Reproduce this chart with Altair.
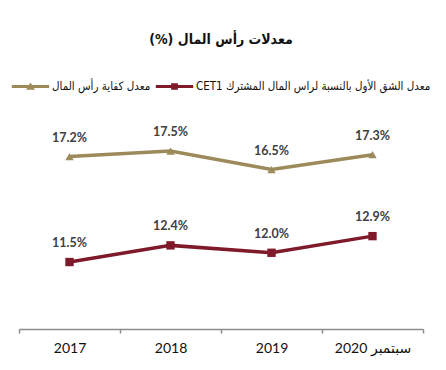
import altair as alt
import pandas as pd

years = ["2017", "2018", "2019", "2020 سبتمبر"]
car = [17.2, 17.5, 16.5, 17.3]
cet1 = [11.5, 12.4, 12.0, 12.9]
s_car = "معدل كفاية رأس المال"
s_cet = "CET1 معدل الشق الأول بالنسبة لراس المال المشترك"
series_names = [s_car, s_cet]
colors = ["#9C8A5B", "#7E1A2A"]
marks = ["triangle-up", "square"]
legend_shapes = ["M-1,-0.075L1,-0.075L1,0.075L-1,0.075ZM-0.24,0.18L0,-0.22L0.24,0.18Z",
                 "M-1,-0.075L1,-0.075L1,0.075L-1,0.075ZM-0.18,-0.18L0.18,-0.18L0.18,0.18L-0.18,0.18Z"]

rows = []
for i, y in enumerate(years):
    rows.append({"year": y, "series": s_car, "value": car[i]})
    rows.append({"year": y, "series": s_cet, "value": cet1[i]})
df = pd.DataFrame(rows)
df["label"] = df["value"].map(lambda v: f"{v:.1f}%")

font = "Lato, DejaVu Sans"
afont = "DejaVu Sans Condensed"
x = alt.X("year:N", sort=years, title=None,
          scale=alt.Scale(paddingInner=0, paddingOuter=0),
          axis=alt.Axis(labelAngle=0, labelFont=font, labelFontSize=14, labelColor="#111",
                        domainColor="#8c8c8c", domainWidth=1.5, tickColor="#8c8c8c",
                        tickWidth=1.5, tickSize=4, tickBand="extent", labelPadding=8))
y = alt.Y("value:Q", scale=alt.Scale(domain=[7.88, 19.88]), axis=None)

base = alt.Chart(df)
layers = []
for name, col, mk in zip(series_names, colors, marks):
    sub = base.transform_filter(alt.datum.series == name)
    layers.append(sub.mark_line(strokeWidth=3.5, color=col).encode(x=x, y=y))
    layers.append(sub.mark_point(filled=True, size=70, opacity=1, color=col, shape=mk).encode(x=x, y=y))

leg = dict(title=None, orient="none", legendX=-8, legendY=-40, direction="horizontal",
           labelFont=afont, labelFontSize=11.5, labelColor="#111", symbolSize=1400,
           columnPadding=4, labelOffset=2, labelLimit=420)
legend_layer = base.transform_filter("false").mark_point(filled=True, opacity=1).encode(
    color=alt.Color("series:N", scale=alt.Scale(domain=series_names, range=colors),
                    legend=alt.Legend(**leg)),
    shape=alt.Shape("series:N", scale=alt.Scale(domain=series_names, range=legend_shapes),
                    legend=alt.Legend(**leg)),
)
labels = base.mark_text(dy=-19, fontWeight="bold", font=font, fontSize=12.5, color="#404040").encode(
    x=x, y=y, text="label:N")

chart = alt.layer(*layers, labels, legend_layer).properties(
    width=404, height=222,
    title=alt.TitleParams("(%) معدلات رأس المال", font=afont, fontSize=14,
                          fontWeight="bold", color="#111", offset=20, anchor="middle"),
    padding={"left": 11, "top": 99, "right": 15, "bottom": 33},
    autosize=alt.AutoSizeParams(type="none"),
).configure_view(stroke=None)

chart.save("out.html", embed_options={"renderer": "svg", "actions": False})
